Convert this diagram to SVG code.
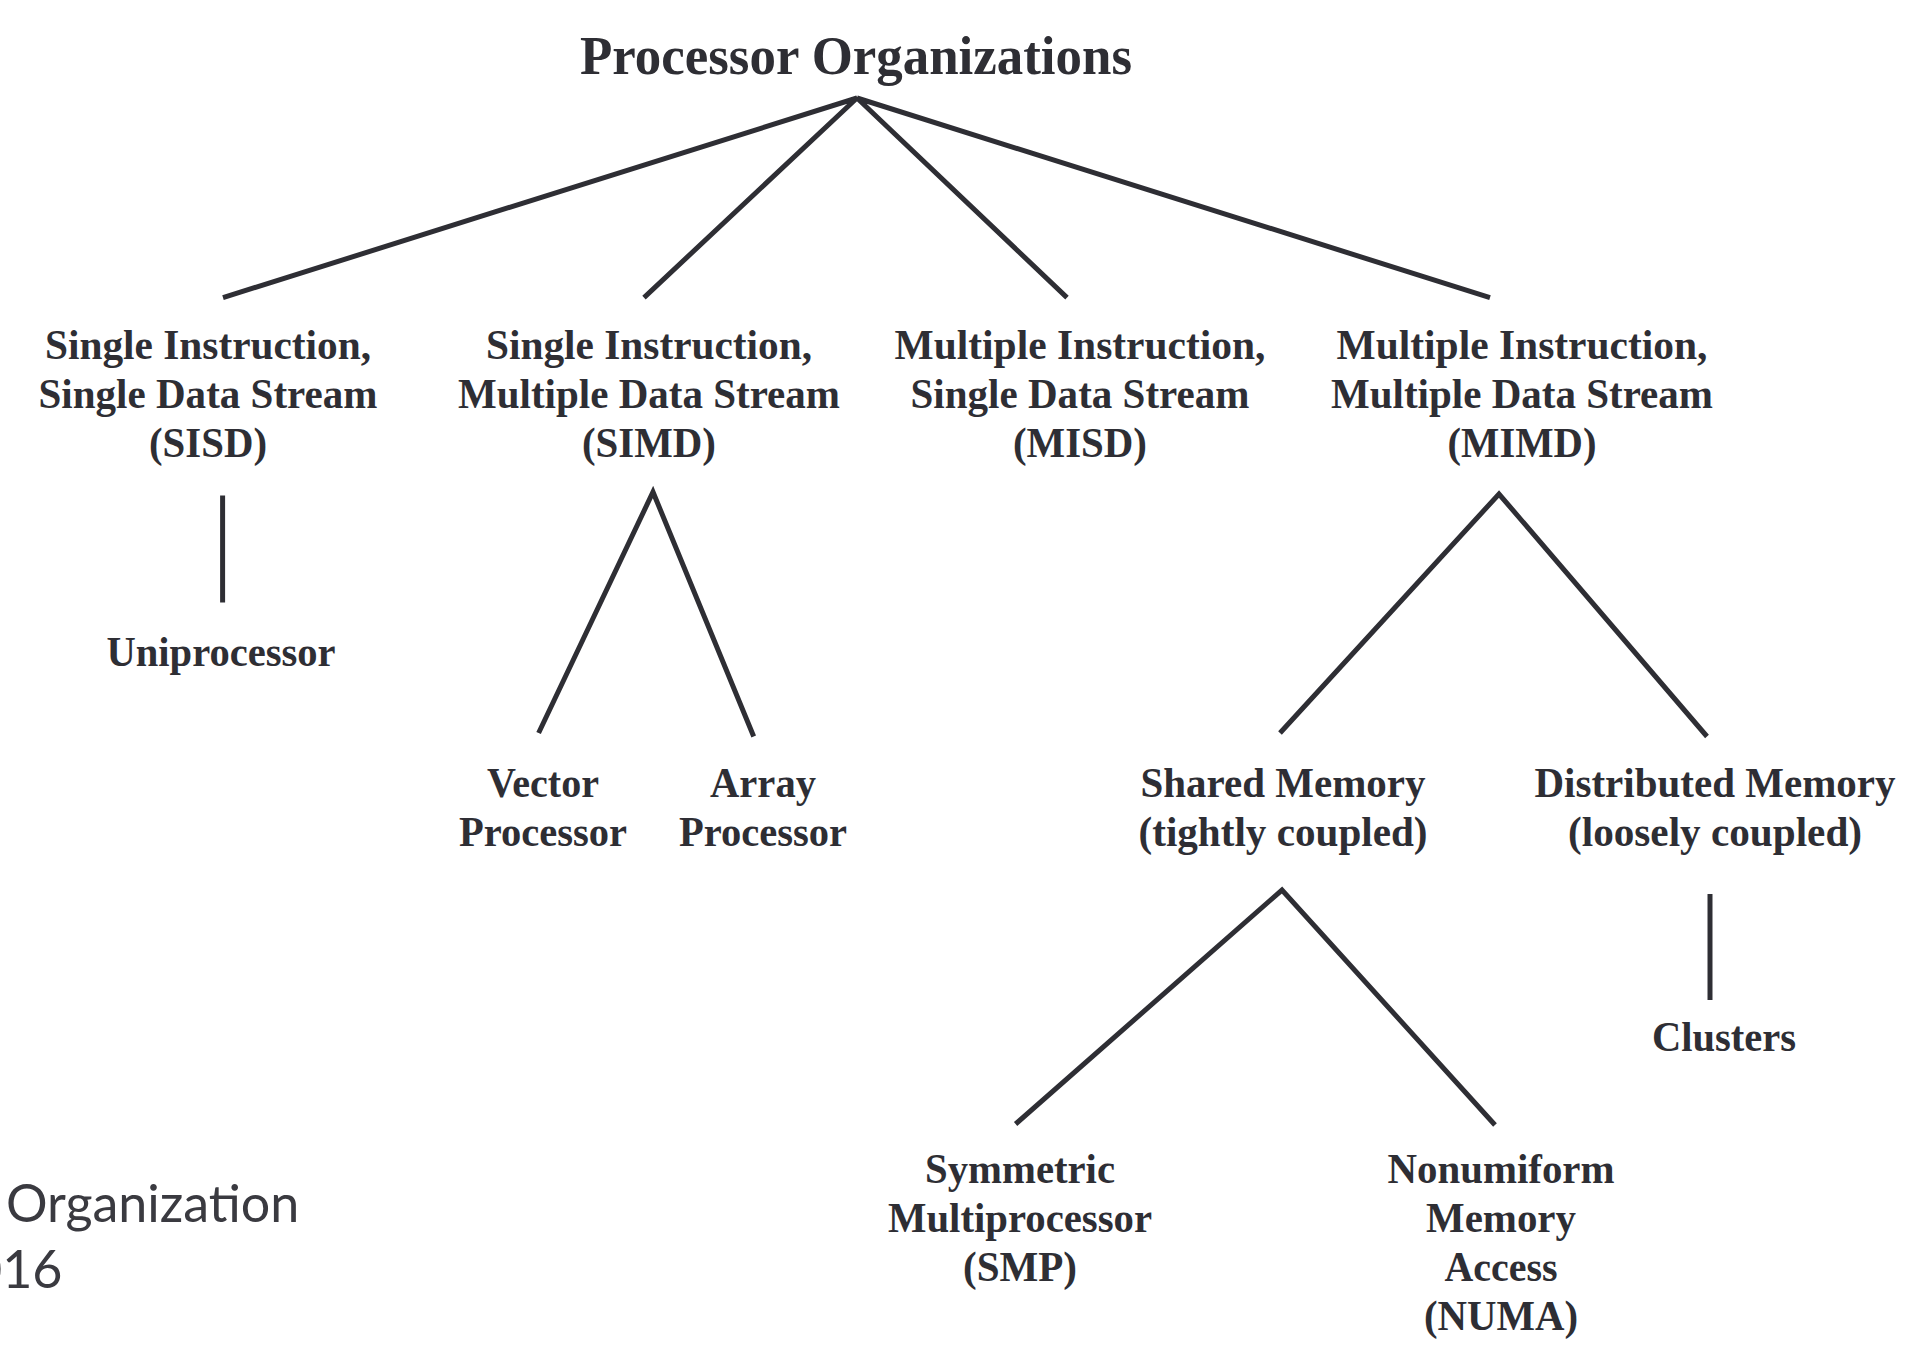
<svg xmlns="http://www.w3.org/2000/svg" width="1928" height="1360" viewBox="0 0 1928 1360">
<style>
.t{font-family:"Liberation Serif","Times New Roman",serif;font-weight:bold;fill:#2e2e34;text-anchor:middle;font-size:43px}
.h{font-size:54px}
.c{fill:none;stroke:#2e2e34;stroke-width:5;stroke-linecap:butt}
.s{font-family:Lato,"Open Sans",sans-serif;fill:#3a3a40;font-size:52px}
</style>
<rect width="1928" height="1360" fill="#ffffff"/>
<g id="connectors">
<path class="c" d="M223,297.6 L857,98 L644,297.6 M857,98 L1067,297.6 M857,98 L1490,297.6"/>
<path class="c" d="M222.6,495.5 V602.5"/>
<path class="c" d="M538.6,733 L653,492 L753.7,736.5"/>
<path class="c" d="M1280,733 L1499,494 L1707,736.5"/>
<path class="c" d="M1015.6,1124 L1282,890 L1495,1125"/>
<path class="c" d="M1710,894 V1000"/>
</g>
<g id="root"><text class="t h" x="856" y="74" textLength="552" lengthAdjust="spacingAndGlyphs">Processor Organizations</text></g>
<g id="sisd"><text class="t" x="208" y="359" textLength="326" lengthAdjust="spacingAndGlyphs">Single Instruction,</text><text class="t" x="208" y="408" textLength="339" lengthAdjust="spacingAndGlyphs">Single Data Stream</text><text class="t" x="208" y="457" textLength="118" lengthAdjust="spacingAndGlyphs">(SISD)</text></g>
<g id="simd"><text class="t" x="649" y="359" textLength="326" lengthAdjust="spacingAndGlyphs">Single Instruction,</text><text class="t" x="649" y="408" textLength="382" lengthAdjust="spacingAndGlyphs">Multiple Data Stream</text><text class="t" x="649" y="457" textLength="134" lengthAdjust="spacingAndGlyphs">(SIMD)</text></g>
<g id="misd"><text class="t" x="1080" y="359" textLength="371" lengthAdjust="spacingAndGlyphs">Multiple Instruction,</text><text class="t" x="1080" y="408" textLength="339" lengthAdjust="spacingAndGlyphs">Single Data Stream</text><text class="t" x="1080" y="457" textLength="134" lengthAdjust="spacingAndGlyphs">(MISD)</text></g>
<g id="mimd"><text class="t" x="1522" y="359" textLength="371" lengthAdjust="spacingAndGlyphs">Multiple Instruction,</text><text class="t" x="1522" y="408" textLength="382" lengthAdjust="spacingAndGlyphs">Multiple Data Stream</text><text class="t" x="1522" y="457" textLength="149" lengthAdjust="spacingAndGlyphs">(MIMD)</text></g>
<g id="uniprocessor"><text class="t" x="221" y="666" textLength="229" lengthAdjust="spacingAndGlyphs">Uniprocessor</text></g>
<g id="vector"><text class="t" x="543" y="797" textLength="112" lengthAdjust="spacingAndGlyphs">Vector</text><text class="t" x="543" y="846" textLength="168" lengthAdjust="spacingAndGlyphs">Processor</text></g>
<g id="array"><text class="t" x="763" y="797" textLength="106" lengthAdjust="spacingAndGlyphs">Array</text><text class="t" x="763" y="846" textLength="168" lengthAdjust="spacingAndGlyphs">Processor</text></g>
<g id="shared"><text class="t" x="1283" y="797" textLength="285" lengthAdjust="spacingAndGlyphs">Shared Memory</text><text class="t" x="1283" y="846" textLength="289" lengthAdjust="spacingAndGlyphs">(tightly coupled)</text></g>
<g id="distributed"><text class="t" x="1715" y="797" textLength="361" lengthAdjust="spacingAndGlyphs">Distributed Memory</text><text class="t" x="1715" y="846" textLength="294" lengthAdjust="spacingAndGlyphs">(loosely coupled)</text></g>
<g id="clusters"><text class="t" x="1724" y="1051" textLength="144" lengthAdjust="spacingAndGlyphs">Clusters</text></g>
<g id="smp"><text class="t" x="1020" y="1183" textLength="190" lengthAdjust="spacingAndGlyphs">Symmetric</text><text class="t" x="1020" y="1232" textLength="264" lengthAdjust="spacingAndGlyphs">Multiprocessor</text><text class="t" x="1020" y="1281" textLength="114" lengthAdjust="spacingAndGlyphs">(SMP)</text></g>
<g id="numa"><text class="t" x="1501" y="1183" textLength="227" lengthAdjust="spacingAndGlyphs">Nonumiform</text><text class="t" x="1501" y="1232" textLength="150" lengthAdjust="spacingAndGlyphs">Memory</text><text class="t" x="1501" y="1281" textLength="113" lengthAdjust="spacingAndGlyphs">Access</text><text class="t" x="1501" y="1330" textLength="154" lengthAdjust="spacingAndGlyphs">(NUMA)</text></g>
<text class="s" x="6" y="1222">Organization</text>
<text class="s" x="-28" y="1288">016</text>
</svg>
